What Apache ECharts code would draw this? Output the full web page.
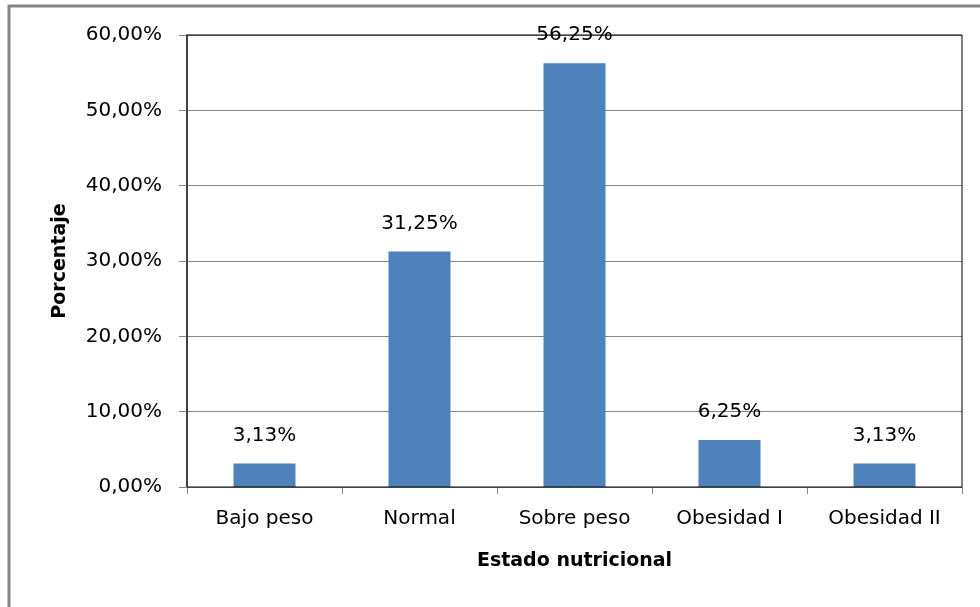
<!DOCTYPE html>
<html>
<head>
<meta charset="utf-8">
<script src="https://cdn.jsdelivr.net/npm/echarts@6/dist/echarts.min.js"></script>
<style>
  html, body { margin: 0; padding: 0; background: #fff; }
  #chart { width: 980px; height: 607px; }
</style>
</head>
<body>
<div id="chart"></div>
<script>
var categories = ['Bajo peso', 'Normal', 'Sobre peso', 'Obesidad I', 'Obesidad II']
var percentages = [3.125, 31.25, 56.25, 6.25, 3.125]
var yTicks = [0, 10, 20, 30, 40, 50, 60]

function pct(v) {
  return v.toFixed(2).replace('.', ',') + '%'
}

var font = 'DejaVu Sans'
var chart = echarts.init(document.getElementById('chart'), null, { renderer: 'canvas' })

chart.setOption({
  animation: false,
  textStyle: { fontFamily: font },
  // outer chart frame (only left and top edges fall inside the window)
  graphic: [{
    type: 'rect',
    shape: { x: 9, y: 6, width: 1200, height: 1200 },
    style: { fill: 'none', stroke: '#868686', lineWidth: 3 },
    silent: true,
    z: -10
  }],
  grid: {
    left: 187,
    right: 18,
    top: 35,
    bottom: 120,
    show: true,
    borderColor: '#000',
    borderWidth: 1,
    z: 5
  },
  xAxis: {
    type: 'category',
    data: categories,
    name: 'Estado nutricional',
    nameLocation: 'middle',
    nameGap: 65,
    nameTextStyle: { fontFamily: font, fontWeight: 'bold', fontSize: 19, color: '#000' },
    axisLine: { lineStyle: { color: '#868686', width: 1 } },
    axisTick: { show: true, length: 7, inside: false, lineStyle: { color: '#868686' } },
    axisLabel: { margin: 22, fontSize: 20, color: '#000', fontFamily: font }
  },
  yAxis: {
    type: 'value',
    min: yTicks[0],
    max: yTicks[yTicks.length - 1],
    interval: 10,
    name: 'Porcentaje',
    nameLocation: 'middle',
    nameRotate: 90,
    nameGap: 117,
    nameTextStyle: { fontFamily: font, fontWeight: 'bold', fontSize: 19, color: '#000' },
    axisLine: { show: true, lineStyle: { color: '#868686', width: 2 } },
    axisTick: { show: true, length: 8, inside: false, lineStyle: { color: '#868686' } },
    axisLabel: { margin: 25, fontSize: 20, color: '#000', fontFamily: font, formatter: pct },
    splitLine: { show: true, lineStyle: { color: '#868686', width: 1 } }
  },
  series: [{
    type: 'bar',
    data: percentages,
    barWidth: '40%',
    itemStyle: { color: '#4F81BD' },
    label: {
      show: true,
      position: 'top',
      distance: 18,
      fontSize: 20,
      color: '#000',
      fontFamily: font,
      formatter: function (p) { return pct(p.value) }
    }
  }]
})
</script>
</body>
</html>
